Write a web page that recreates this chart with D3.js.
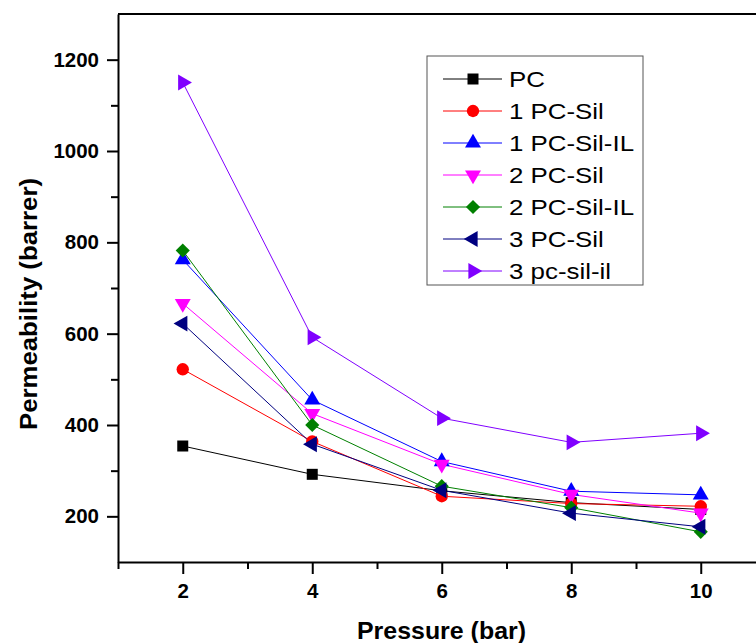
<!DOCTYPE html>
<html>
<head>
<meta charset="utf-8">
<script src="https://cdn.jsdelivr.net/npm/d3@7"></script>
<style>
  html, body { margin: 0; padding: 0; background: #fff; }
  svg { display: block; font-family: "Liberation Sans", Arial, sans-serif; }
</style>
</head>
<body>
<svg id="chart" width="756" height="643"></svg>
<script>
// ---- data ----
const pressures = [2, 4, 6, 8, 10];
const seriesNames = ["PC", "1 PC-Sil", "1 PC-Sil-IL", "2 PC-Sil", "2 PC-Sil-IL", "3 PC-Sil", "3 pc-sil-il"];
const pc          = [354, 292, 256, 230, 215];
const pcSil1      = [522, 364, 244, 228, 222];
const pcSilIL1    = [762, 455, 320, 255, 247];
const pcSil2      = [666, 425, 314, 248, 207];
const pcSilIL2    = [782, 400, 266, 219, 166];
const pcSil3      = [622, 358, 257, 207, 177];
const pcSilIL3    = [1150, 592, 415, 362, 382];
const yMajorTicks = [200, 400, 600, 800, 1000, 1200];
const yMinorTicks = [300, 500, 700, 900, 1100];
const xMajorTicks = [2, 4, 6, 8, 10];
const xMinorTicks = [1, 3, 5, 7, 9, 11];
const xTitle = "Pressure (bar)";
const yTitle = "Permeability (barrer)";

const seriesValues = [pc, pcSil1, pcSilIL1, pcSil2, pcSilIL2, pcSil3, pcSilIL3];
const colors = ["#000000", "#ff0000", "#0000ff", "#ff00ff", "#008000", "#000080", "#8000ff"];
// marker: [symbol type, rotation, area]
const markers = [
  [d3.symbolSquare, 0, 121],
  [d3.symbolCircle, 0, 120],
  [d3.symbolTriangle, 0, 110],
  [d3.symbolTriangle, 180, 110],
  [d3.symbolSquare, 45, 100],
  [d3.symbolTriangle, -90, 110],
  [d3.symbolTriangle, 90, 110]
];

const svg = d3.select("#chart");
const padL = 118, padT = 14, padB = 562;

const x = d3.scaleLinear().domain([1, 11]).range([padL, 765.5]);
const y = d3.scaleLinear().domain([100, 1300]).range([padB, padT]);

// top frame line
svg.append("line")
  .attr("x1", padL).attr("x2", 756)
  .attr("y1", padT).attr("y2", padT)
  .attr("stroke", "#000").attr("stroke-width", 2);

function styleAxis(g) {
  g.selectAll(".domain").attr("stroke", "#000").attr("stroke-width", 2);
  g.selectAll(".tick line").attr("stroke", "#000").attr("stroke-width", 2);
  g.selectAll(".tick text")
    .attr("fill", "#000")
    .style("font-size", "20.5px")
    .style("font-weight", "bold");
}

const yMinor = svg.append("g").attr("transform", `translate(${padL},0)`)
  .call(d3.axisLeft(y).tickValues(yMinorTicks).tickSize(7).tickFormat(""));
yMinor.select(".domain").remove();
yMinor.selectAll(".tick line").attr("stroke", "#000").attr("stroke-width", 2);

const xMinor = svg.append("g").attr("transform", `translate(0,${padB})`)
  .call(d3.axisBottom(x).tickValues(xMinorTicks).tickSize(7).tickFormat(""));
xMinor.select(".domain").remove();
xMinor.selectAll(".tick line").attr("stroke", "#000").attr("stroke-width", 2);

const yAxis = svg.append("g").attr("transform", `translate(${padL},0)`)
  .call(d3.axisLeft(y).tickValues(yMajorTicks).tickSize(11).tickSizeOuter(0).tickPadding(8).tickFormat(d3.format("d")));
styleAxis(yAxis);

const xAxis = svg.append("g").attr("transform", `translate(0,${padB})`)
  .call(d3.axisBottom(x).tickValues(xMajorTicks).tickSize(12).tickSizeOuter(0).tickPadding(9).tickFormat(d3.format("d")));
styleAxis(xAxis);

// axis titles
svg.append("text")
  .attr("x", 441.5).attr("y", 639)
  .attr("text-anchor", "middle")
  .style("font-size", "24px").style("font-weight", "bold")
  .attr("textLength", 169).attr("lengthAdjust", "spacingAndGlyphs")
  .text(xTitle);

svg.append("text")
  .attr("transform", "translate(37,304) rotate(-90)")
  .attr("text-anchor", "middle")
  .style("font-size", "24px").style("font-weight", "bold")
  .attr("textLength", 252).attr("lengthAdjust", "spacingAndGlyphs")
  .text(yTitle);

// series
const line = d3.line().x((d, i) => x(pressures[i])).y(d => y(d));
const plot = svg.append("g");

seriesValues.forEach((vals, s) => {
  plot.append("path")
    .datum(vals)
    .attr("d", line)
    .attr("fill", "none")
    .attr("stroke", colors[s])
    .attr("stroke-width", 1);
});

seriesValues.forEach((vals, s) => {
  const [type, rot, size] = markers[s];
  plot.selectAll(null)
    .data(vals)
    .enter().append("path")
    .attr("d", d3.symbol().type(type).size(size))
    .attr("transform", (d, i) => `translate(${x(pressures[i])},${y(d)}) rotate(${rot})`)
    .attr("fill", colors[s]);
});

// legend
const lg = svg.append("g");
lg.append("rect")
  .attr("x", 427).attr("y", 56).attr("width", 216).attr("height", 229)
  .attr("fill", "#fff").attr("stroke", "#555").attr("stroke-width", 1);

seriesNames.forEach((name, s) => {
  const cy = 79 + s * 32;
  const [type, rot, size] = markers[s];
  lg.append("line")
    .attr("x1", 443).attr("x2", 502).attr("y1", cy).attr("y2", cy)
    .attr("stroke", colors[s]).attr("stroke-width", 1);
  lg.append("path")
    .attr("d", d3.symbol().type(type).size(size))
    .attr("transform", `translate(473,${cy}) rotate(${rot})`)
    .attr("fill", colors[s]);
  lg.append("text")
    .attr("transform", `translate(509,${cy + 8}) scale(1.15,1)`)
    .style("font-size", "22.5px")
    .attr("fill", "#000")
    .text(name);
});
</script>
</body>
</html>
